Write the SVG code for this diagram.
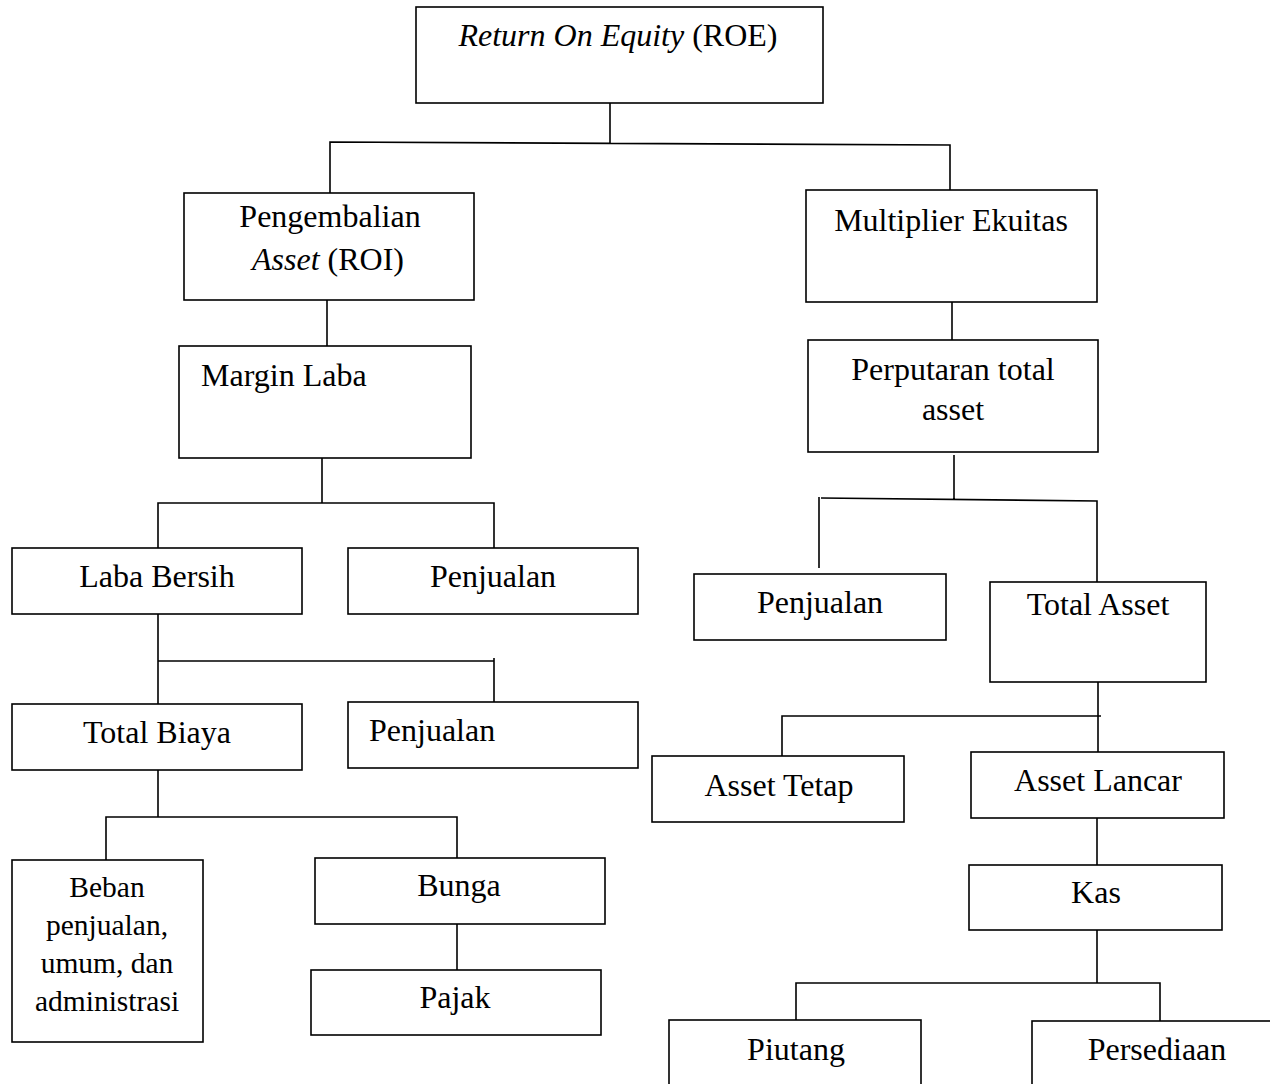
<svg xmlns="http://www.w3.org/2000/svg" width="1270" height="1084" viewBox="0 0 1270 1084">
<style>
.b{fill:#fff;stroke:#000;stroke-width:1.6}
.t{font-family:"Liberation Serif","Times New Roman",serif;font-size:32px;fill:#000;text-anchor:middle}
.l{font-family:"Liberation Serif","Times New Roman",serif;font-size:32px;fill:#000}
.s{font-size:29.5px}
.c{fill:none;stroke:#000;stroke-width:1.6}
</style>
<rect width="1270" height="1084" fill="#fff"/>
<g id="connectors">
<path class="c" d="M610 103V143M330 193V142L950 145V190"/>
<path class="c" d="M327 300V346"/>
<path class="c" d="M322 458V503M158 548V503H494V548"/>
<path class="c" d="M158 614V704M158 661H494M494 658V702"/>
<path class="c" d="M158 770V817M106 860V817H457V858"/>
<path class="c" d="M457 924V970"/>
<path class="c" d="M952 302V340"/>
<path class="c" d="M954 455V499M821 498L1097 501V582M819 497V568"/>
<path class="c" d="M1098 682V752M782 756V716H1101"/>
<path class="c" d="M1097 818V865"/>
<path class="c" d="M1097 930V983M796 1020V983H1160V1021"/>
</g>
<g id="roe"><rect class="b" x="416" y="7" width="407" height="96"/><text class="t" x="618" y="46"><tspan font-style="italic">Return On Equity</tspan> (ROE)</text></g>
<g id="roi"><rect class="b" x="184" y="193" width="290" height="107"/><text class="t" x="330" y="227">Pengembalian</text><text class="t" x="328" y="270"><tspan font-style="italic">Asset</tspan> (ROI)</text></g>
<g id="multiplier"><rect class="b" x="806" y="190" width="291" height="112"/><text class="t" x="951" y="231">Multiplier Ekuitas</text></g>
<g id="margin"><rect class="b" x="179" y="346" width="292" height="112"/><text class="l" x="201" y="386">Margin Laba</text></g>
<g id="perputaran"><rect class="b" x="808" y="340" width="290" height="112"/><text class="t" x="953" y="380">Perputaran total</text><text class="t" x="953" y="420">asset</text></g>
<g id="laba-bersih"><rect class="b" x="12" y="548" width="290" height="66"/><text class="t" x="157" y="587">Laba Bersih</text></g>
<g id="penjualan1"><rect class="b" x="348" y="548" width="290" height="66"/><text class="t" x="493" y="587">Penjualan</text></g>
<g id="total-biaya"><rect class="b" x="12" y="704" width="290" height="66"/><text class="t" x="157" y="743">Total Biaya</text></g>
<g id="penjualan2"><rect class="b" x="348" y="702" width="290" height="66"/><text class="l" x="369" y="741">Penjualan</text></g>
<g id="beban"><rect class="b" x="12" y="860" width="191" height="182"/><text class="t s" x="107" y="897">Beban</text><text class="t s" x="107" y="935">penjualan,</text><text class="t s" x="107" y="973">umum, dan</text><text class="t s" x="107" y="1011">administrasi</text></g>
<g id="bunga"><rect class="b" x="315" y="858" width="290" height="66"/><text class="t" x="459" y="896">Bunga</text></g>
<g id="pajak"><rect class="b" x="311" y="970" width="290" height="65"/><text class="t" x="455" y="1008">Pajak</text></g>
<g id="penjualan3"><rect class="b" x="694" y="574" width="252" height="66"/><text class="t" x="820" y="613">Penjualan</text></g>
<g id="total-asset"><rect class="b" x="990" y="582" width="216" height="100"/><text class="t" x="1098" y="615">Total Asset</text></g>
<g id="asset-tetap"><rect class="b" x="652" y="756" width="252" height="66"/><text class="t" x="779" y="796">Asset Tetap</text></g>
<g id="asset-lancar"><rect class="b" x="971" y="752" width="253" height="66"/><text class="t" x="1098" y="791">Asset Lancar</text></g>
<g id="kas"><rect class="b" x="969" y="865" width="253" height="65"/><text class="t" x="1096" y="903">Kas</text></g>
<g id="piutang"><rect class="b" x="669" y="1020" width="252" height="80"/><text class="t" x="796" y="1060">Piutang</text></g>
<g id="persediaan"><rect class="b" x="1032" y="1021" width="260" height="80"/><text class="t" x="1157" y="1060">Persediaan</text></g>
</svg>
